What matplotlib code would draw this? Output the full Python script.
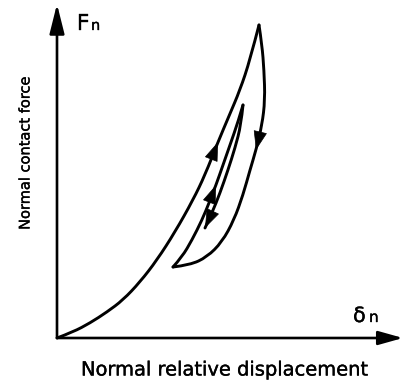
import matplotlib
matplotlib.use("Agg")
import matplotlib.pyplot as plt
from matplotlib.path import Path
from matplotlib.patches import PathPatch
import matplotlib.patheffects as pe

# Hysteresis of normal contact force vs. normal relative displacement (arbitrary units)
load_x = [0.0, 1.6, 3.3, 5.0, 6.6, 8.3, 10.0, 11.8, 13.6, 14.8, 16.1, 17.2, 18.3, 19.3, 20.2]
load_y = [0.0, 0.6, 1.5, 2.6, 3.8, 5.6, 7.8, 10.6, 13.8, 16.3, 19.6, 22.2, 24.8, 27.8, 31.3]

unload_x = [20.2, 20.5, 20.7, 20.8, 20.5, 19.9, 19.3, 18.6, 17.7, 16.5, 15.0, 13.3, 11.6]
unload_y = [31.3, 29.3, 26.8, 23.8, 21.3, 18.8, 16.8, 14.3, 11.8, 9.6, 8.1, 7.3, 7.1]

reload_x = [11.6, 12.5, 13.5, 14.5, 15.2, 15.9, 16.6, 17.3, 18.1, 18.6]
reload_y = [7.1, 8.1, 9.8, 11.8, 13.5, 15.3, 17.3, 19.3, 21.6, 23.3]

inner_unload_x = [18.6, 18.4, 17.8, 17.1, 16.3, 15.5, 14.8]
inner_unload_y = [23.3, 21.3, 19.0, 16.8, 14.5, 12.5, 11.0]

# index of the arrow tip on each branch
arrow_tips = [(load_x, load_y, 10), (unload_x, unload_y, 5),
              (reload_x, reload_y, 5), (inner_unload_x, inner_unload_y, 6)]


def smooth_path(xs, ys):
    """Quadratic Bezier path through the branch, using inner readings as control points."""
    pts = list(zip(xs, ys))
    verts = [pts[0]]
    codes = [Path.MOVETO]
    if len(pts) == 2:
        verts.append(pts[1])
        codes.append(Path.LINETO)
        return Path(verts, codes)
    for i in range(1, len(pts) - 1):
        if i < len(pts) - 2:
            end = ((pts[i][0] + pts[i + 1][0]) / 2, (pts[i][1] + pts[i + 1][1]) / 2)
        else:
            end = pts[i + 1]
        verts += [pts[i], end]
        codes += [Path.CURVE3, Path.CURVE3]
    return Path(verts, codes)


fig = plt.figure(figsize=(4.05, 3.83), dpi=100)
ax = fig.add_axes([0, 0, 1, 1])
ax.set_xlim(-5.7, 34.8)
ax.set_ylim(-4.5, 33.8)
ax.axis("off")

lw = 2.1
for xs, ys in [(load_x, load_y), (unload_x, unload_y),
               (reload_x, reload_y), (inner_unload_x, inner_unload_y)]:
    ax.add_patch(PathPatch(smooth_path(xs, ys), facecolor="none",
                           edgecolor="black", lw=lw, capstyle="round",
                           joinstyle="round"))

for xs, ys, i in arrow_tips:
    ax.annotate("", xy=(xs[i], ys[i]), xytext=(xs[i - 1], ys[i - 1]),
                arrowprops=dict(arrowstyle="-|>,head_length=1.25,head_width=0.45",
                                mutation_scale=10, color="black", lw=0.5,
                                shrinkA=0, shrinkB=0))

# coordinate axes with arrowheads
ax.annotate("", xy=(0, 33.4), xytext=(0, 0),
            arrowprops=dict(arrowstyle="-|>,head_length=1.8,head_width=0.45",
                            mutation_scale=10, color="black", lw=1.9,
                            shrinkA=0, shrinkB=0))
ax.annotate("", xy=(34.6, 0), xytext=(0, 0),
            arrowprops=dict(arrowstyle="-|>,head_length=1.5,head_width=0.42",
                            mutation_scale=10, color="black", lw=1.9,
                            shrinkA=0, shrinkB=0))

font = "DejaVu Sans"
heavy = [pe.withStroke(linewidth=0.25, foreground="black")]
ax.text(2.0, 30.8, "F", fontsize=16, family=font, ha="left", va="baseline",
        path_effects=heavy)
ax.text(3.4, 30.8, "n", fontsize=10.5, family=font, ha="left", va="baseline",
        path_effects=heavy)
ax.text(29.6, 1.6, "δ", fontsize=15, family=font, ha="left", va="baseline",
        path_effects=heavy)
ax.text(31.2, 1.6, "n", fontsize=11, family=font, ha="left", va="baseline",
        path_effects=heavy)

ax.text(-3.2, 18.5, "Normal contact force", fontsize=10.5, family=font,
        rotation=90, ha="center", va="center", path_effects=heavy)
ax.text(16.8, -3.2, "Normal relative displacement", fontsize=14, family=font,
        ha="center", va="center", path_effects=heavy)

fig.savefig("out.png", dpi=100, facecolor="white")
